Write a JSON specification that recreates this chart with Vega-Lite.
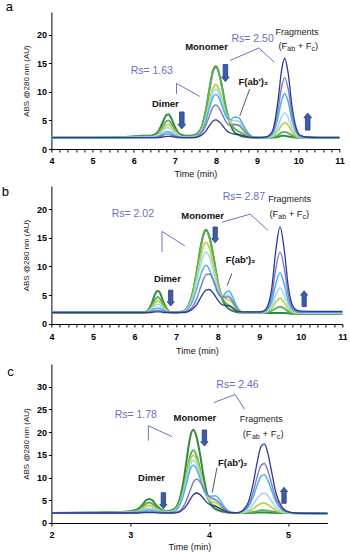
{
"$schema": "https://vega.github.io/schema/vega-lite/v6.json",
"padding": {"left": 1.4, "top": 1, "right": 0, "bottom": 0},
"background": "white",
"config": {"view": {"stroke": null}, "axis": {"grid": false, "domainColor": "#000", "tickColor": "#000", "labelColor": "#000", "titleColor": "#111", "labelFont": "Liberation Sans", "titleFont": "Liberation Sans", "labelFontSize": 9, "labelFontWeight": "bold", "titleFontSize": 9, "titleFontWeight": "normal", "tickSize": 3}},
"datasets": {
"ca": [
{"t":4,"c1":2,"c2":2,"c3":2,"c4":2,"c5":2,"c6":2,"c7":2},
{"t":5,"c1":2,"c2":2,"c3":2,"c4":2,"c5":2,"c6":2,"c7":2},
{"t":5.8,"c1":2.1,"c2":2.1,"c3":2,"c4":2,"c5":2,"c6":2,"c7":2},
{"t":6.2,"c1":2.3,"c2":2.2,"c3":2.1,"c4":2.1,"c5":2,"c6":2,"c7":2},
{"t":6.4,"c1":2.3,"c2":2.2,"c3":2.1,"c4":2.1,"c5":2,"c6":2,"c7":2},
{"t":6.5,"c1":2.5,"c2":2.3,"c3":2.2,"c4":2.1,"c5":2,"c6":2,"c7":2},
{"t":6.6,"c1":3.1,"c2":2.8,"c3":2.6,"c4":2.4,"c5":2.2,"c6":2.1,"c7":2},
{"t":6.7,"c1":4.6,"c2":3.9,"c3":3.4,"c4":3.1,"c5":2.6,"c6":2.4,"c7":2.1},
{"t":6.8,"c1":6.0,"c2":4.9,"c3":4.2,"c4":3.7,"c5":3.0,"c6":2.6,"c7":2.2},
{"t":6.85,"c1":6.1,"c2":5.0,"c3":4.3,"c4":3.7,"c5":3.0,"c6":2.6,"c7":2.2},
{"t":6.9,"c1":5.6,"c2":4.6,"c3":4.0,"c4":3.5,"c5":2.9,"c6":2.5,"c7":2.2},
{"t":7.0,"c1":3.9,"c2":3.4,"c3":3.1,"c4":2.8,"c5":2.4,"c6":2.3,"c7":2.1},
{"t":7.1,"c1":2.7,"c2":2.5,"c3":2.4,"c4":2.3,"c5":2.1,"c6":2.1,"c7":2},
{"t":7.2,"c1":2.4,"c2":2.2,"c3":2.1,"c4":2.1,"c5":2,"c6":2,"c7":2},
{"t":7.3,"c1":2.3,"c2":2.2,"c3":2.1,"c4":2.05,"c5":2,"c6":2,"c7":2},
{"t":7.45,"c1":2.4,"c2":2.3,"c3":2.15,"c4":2.1,"c5":2.05,"c6":2,"c7":2},
{"t":7.55,"c1":2.7,"c2":2.6,"c3":2.4,"c4":2.35,"c5":2.3,"c6":2.2,"c7":2.1},
{"t":7.65,"c1":3.8,"c2":3.8,"c3":3.3,"c4":3.2,"c5":3.0,"c6":2.8,"c7":2.4},
{"t":7.75,"c1":6.6,"c2":6.6,"c3":5.4,"c4":5.1,"c5":4.8,"c6":4.1,"c7":3.1},
{"t":7.85,"c1":10.9,"c2":10.7,"c3":8.6,"c4":8.0,"c5":7.4,"c6":6.0,"c7":4.2},
{"t":7.93,"c1":13.8,"c2":13.6,"c3":10.7,"c4":10.0,"c5":9.1,"c6":7.4,"c7":4.9},
{"t":8.0,"c1":14.5,"c2":14.3,"c3":11.3,"c4":10.5,"c5":9.6,"c6":7.7,"c7":5.1},
{"t":8.07,"c1":13.4,"c2":13.3,"c3":10.5,"c4":9.8,"c5":9.0,"c6":7.2,"c7":4.8},
{"t":8.15,"c1":10.8,"c2":10.7,"c3":8.6,"c4":8.1,"c5":7.5,"c6":6.1,"c7":4.2},
{"t":8.25,"c1":6.9,"c2":7.0,"c3":6.0,"c4":5.9,"c5":5.7,"c6":4.7,"c7":3.3},
{"t":8.35,"c1":4.3,"c2":4.6,"c3":4.6,"c4":4.9,"c5":5.1,"c6":4.1,"c7":2.8},
{"t":8.45,"c1":2.9,"c2":3.6,"c3":4.3,"c4":5.0,"c5":5.6,"c6":4.3,"c7":2.6},
{"t":8.55,"c1":2.5,"c2":3.1,"c3":4.1,"c4":4.9,"c5":5.5,"c6":4.2,"c7":2.5},
{"t":8.65,"c1":2.2,"c2":2.7,"c3":3.4,"c4":3.9,"c5":4.4,"c6":3.5,"c7":2.35},
{"t":8.75,"c1":2.1,"c2":2.3,"c3":2.6,"c4":2.9,"c5":3.1,"c6":2.7,"c7":2.15},
{"t":8.85,"c1":2,"c2":2.1,"c3":2.2,"c4":2.25,"c5":2.3,"c6":2.2,"c7":2.05},
{"t":8.95,"c1":2,"c2":2,"c3":2,"c4":2.05,"c5":2.05,"c6":2.05,"c7":2},
{"t":9.05,"c1":2,"c2":2,"c3":2,"c4":2,"c5":2,"c6":2,"c7":2},
{"t":9.2,"c1":2,"c2":2,"c3":2,"c4":2,"c5":2,"c6":2.05,"c7":2.1},
{"t":9.3,"c1":2,"c2":2,"c3":2.1,"c4":2.1,"c5":2.2,"c6":2.3,"c7":2.4},
{"t":9.4,"c1":2,"c2":2.1,"c3":2.3,"c4":2.5,"c5":2.9,"c6":3.3,"c7":3.7},
{"t":9.5,"c1":2.1,"c2":2.4,"c3":3.1,"c4":3.8,"c5":5.3,"c6":6.5,"c7":8.0},
{"t":9.6,"c1":2.3,"c2":2.9,"c3":4.2,"c4":5.7,"c5":8.6,"c6":11.0,"c7":14.0},
{"t":9.67,"c1":2.3,"c2":3.0,"c3":4.6,"c4":6.3,"c5":9.7,"c6":12.5,"c7":15.9},
{"t":9.75,"c1":2.2,"c2":2.8,"c3":4.2,"c4":5.6,"c5":8.4,"c6":10.7,"c7":13.5},
{"t":9.85,"c1":2.1,"c2":2.4,"c3":3.0,"c4":3.7,"c5":5.0,"c6":6.0,"c7":7.4},
{"t":9.95,"c1":2,"c2":2.1,"c3":2.3,"c4":2.5,"c5":2.9,"c6":3.3,"c7":3.7},
{"t":10.05,"c1":2,"c2":2,"c3":2.1,"c4":2.1,"c5":2.2,"c6":2.3,"c7":2.4},
{"t":10.2,"c1":2,"c2":2,"c3":2,"c4":2,"c5":2,"c6":2.05,"c7":2.1},
{"t":10.5,"c1":2,"c2":2,"c3":2,"c4":2,"c5":2,"c6":2,"c7":2},
{"t":11,"c1":2,"c2":2,"c3":2,"c4":2,"c5":2,"c6":2,"c7":2}
],
"cb": [
{"t":4,"c1":2,"c2":2,"c3":2,"c4":2,"c5":2,"c6":2,"c7":2},
{"t":5,"c1":2,"c2":2,"c3":2,"c4":2,"c5":2,"c6":2,"c7":2},
{"t":6,"c1":2,"c2":2,"c3":2,"c4":2,"c5":2,"c6":2,"c7":2},
{"t":6.2,"c1":2,"c2":2,"c3":2,"c4":2,"c5":2,"c6":2,"c7":2},
{"t":6.3,"c1":2.2,"c2":2.2,"c3":2.1,"c4":2.1,"c5":2,"c6":2,"c7":2},
{"t":6.4,"c1":3.3,"c2":2.9,"c3":2.7,"c4":2.5,"c5":2.3,"c6":2.1,"c7":2},
{"t":6.5,"c1":5.3,"c2":4.3,"c3":3.7,"c4":3.2,"c5":2.7,"c6":2.3,"c7":2.1},
{"t":6.56,"c1":5.8,"c2":4.7,"c3":4.0,"c4":3.4,"c5":2.8,"c6":2.4,"c7":2.1},
{"t":6.62,"c1":5.3,"c2":4.3,"c3":3.7,"c4":3.2,"c5":2.7,"c6":2.3,"c7":2.1},
{"t":6.7,"c1":3.7,"c2":3.2,"c3":2.9,"c4":2.6,"c5":2.4,"c6":2.2,"c7":2},
{"t":6.8,"c1":2.4,"c2":2.3,"c3":2.2,"c4":2.1,"c5":2.1,"c6":2,"c7":2},
{"t":6.9,"c1":2,"c2":2,"c3":2,"c4":2,"c5":2,"c6":2,"c7":2},
{"t":7.0,"c1":2,"c2":2,"c3":2,"c4":2,"c5":2,"c6":2,"c7":2},
{"t":7.2,"c1":2.3,"c2":2.3,"c3":2.3,"c4":2.25,"c5":2.2,"c6":2.1,"c7":2},
{"t":7.3,"c1":3.3,"c2":3.2,"c3":3.1,"c4":2.9,"c5":2.7,"c6":2.3,"c7":2.2},
{"t":7.4,"c1":5.5,"c2":5.4,"c3":4.9,"c4":4.5,"c5":4.0,"c6":3.0,"c7":2.6},
{"t":7.5,"c1":9.3,"c2":9.2,"c3":8.2,"c4":7.4,"c5":6.2,"c6":4.5,"c7":3.4},
{"t":7.6,"c1":13.8,"c2":13.6,"c3":12.0,"c4":10.6,"c5":8.7,"c6":6.6,"c7":4.7},
{"t":7.66,"c1":15.7,"c2":15.5,"c3":13.6,"c4":12.0,"c5":9.8,"c6":7.8,"c7":5.4},
{"t":7.72,"c1":16.4,"c2":16.2,"c3":14.2,"c4":12.5,"c5":10.2,"c6":8.6,"c7":5.9},
{"t":7.8,"c1":15.2,"c2":15.1,"c3":13.2,"c4":11.7,"c5":9.5,"c6":8.7,"c7":6.0},
{"t":7.9,"c1":11.7,"c2":11.5,"c3":10.2,"c4":9.1,"c5":7.5,"c6":7.5,"c7":5.3},
{"t":8.0,"c1":7.4,"c2":7.4,"c3":6.7,"c4":6.2,"c5":5.4,"c6":5.7,"c7":4.2},
{"t":8.1,"c1":4.5,"c2":4.7,"c3":4.7,"c4":4.8,"c5":4.7,"c6":4.7,"c7":3.4},
{"t":8.2,"c1":3.1,"c2":3.6,"c3":4.4,"c4":4.9,"c5":5.5,"c6":4.7,"c7":3.2},
{"t":8.27,"c1":2.6,"c2":3.2,"c3":4.2,"c4":5.0,"c5":5.8,"c6":4.7,"c7":3.2},
{"t":8.35,"c1":2.3,"c2":2.8,"c3":3.7,"c4":4.3,"c5":4.9,"c6":4.0,"c7":2.9},
{"t":8.45,"c1":2.1,"c2":2.3,"c3":2.6,"c4":2.9,"c5":3.2,"c6":2.8,"c7":2.3},
{"t":8.55,"c1":2,"c2":2.1,"c3":2.1,"c4":2.2,"c5":2.2,"c6":2.2,"c7":2.1},
{"t":8.65,"c1":2,"c2":2,"c3":2,"c4":2,"c5":2,"c6":2,"c7":2.1},
{"t":8.8,"c1":2,"c2":2,"c3":2,"c4":2,"c5":2,"c6":2,"c7":2.1},
{"t":9.0,"c1":2,"c2":2,"c3":2,"c4":2,"c5":2,"c6":2.05,"c7":2.1},
{"t":9.1,"c1":1.95,"c2":2,"c3":2,"c4":2.05,"c5":2.05,"c6":2.15,"c7":2.25},
{"t":9.2,"c1":1.9,"c2":2.1,"c3":2.2,"c4":2.3,"c5":2.5,"c6":2.8,"c7":3.1},
{"t":9.3,"c1":1.9,"c2":2.3,"c3":2.7,"c4":3.2,"c5":3.9,"c6":4.9,"c7":6.2},
{"t":9.4,"c1":1.9,"c2":2.7,"c3":3.8,"c4":5.1,"c5":7.0,"c6":9.7,"c7":12.9},
{"t":9.5,"c1":1.9,"c2":3.0,"c3":4.5,"c4":6.3,"c5":8.9,"c6":12.5,"c7":16.9},
{"t":9.6,"c1":1.9,"c2":2.7,"c3":3.7,"c4":5.0,"c5":6.9,"c6":9.7,"c7":13.0},
{"t":9.7,"c1":1.85,"c2":2.2,"c3":2.6,"c4":3.1,"c5":3.9,"c6":5.0,"c7":6.4},
{"t":9.8,"c1":1.8,"c2":1.9,"c3":2.1,"c4":2.2,"c5":2.5,"c6":2.8,"c7":3.2},
{"t":9.9,"c1":1.8,"c2":1.8,"c3":1.9,"c4":2.0,"c5":2.1,"c6":2.25,"c7":2.4},
{"t":10.0,"c1":1.8,"c2":1.8,"c3":1.9,"c4":1.9,"c5":2.0,"c6":2.1,"c7":2.25},
{"t":10.5,"c1":1.8,"c2":1.8,"c3":1.9,"c4":1.9,"c5":2.0,"c6":2.1,"c7":2.2},
{"t":11,"c1":1.8,"c2":1.8,"c3":1.9,"c4":1.9,"c5":2.0,"c6":2.1,"c7":2.2}
],
"cc": [
{"t":2,"c1":2.2,"c2":2.2,"c3":2.2,"c4":2.2,"c5":2.2,"c6":2.2,"c7":2.2},
{"t":2.5,"c1":2.3,"c2":2.2,"c3":2.2,"c4":2.2,"c5":2.2,"c6":2.2,"c7":2.2},
{"t":2.8,"c1":2.4,"c2":2.35,"c3":2.3,"c4":2.3,"c5":2.25,"c6":2.2,"c7":2.2},
{"t":3.0,"c1":2.6,"c2":2.5,"c3":2.4,"c4":2.35,"c5":2.3,"c6":2.25,"c7":2.2},
{"t":3.1,"c1":3.1,"c2":2.8,"c3":2.6,"c4":2.5,"c5":2.4,"c6":2.3,"c7":2.2},
{"t":3.15,"c1":3.9,"c2":3.5,"c3":3.1,"c4":2.8,"c5":2.6,"c6":2.4,"c7":2.25},
{"t":3.2,"c1":5.0,"c2":4.2,"c3":3.6,"c4":3.1,"c5":2.8,"c6":2.5,"c7":2.3},
{"t":3.24,"c1":5.3,"c2":4.5,"c3":3.8,"c4":3.25,"c5":2.9,"c6":2.55,"c7":2.3},
{"t":3.28,"c1":5.0,"c2":4.2,"c3":3.6,"c4":3.1,"c5":2.8,"c6":2.5,"c7":2.3},
{"t":3.33,"c1":3.9,"c2":3.5,"c3":3.1,"c4":2.8,"c5":2.6,"c6":2.4,"c7":2.25},
{"t":3.4,"c1":2.9,"c2":2.7,"c3":2.5,"c4":2.45,"c5":2.35,"c6":2.3,"c7":2.2},
{"t":3.47,"c1":2.6,"c2":2.5,"c3":2.4,"c4":2.35,"c5":2.3,"c6":2.25,"c7":2.2},
{"t":3.55,"c1":3.0,"c2":2.8,"c3":2.7,"c4":2.6,"c5":2.5,"c6":2.3,"c7":2.2},
{"t":3.62,"c1":4.9,"c2":4.2,"c3":4.0,"c4":3.9,"c5":3.7,"c6":2.6,"c7":2.4},
{"t":3.67,"c1":8.6,"c2":7.0,"c3":6.7,"c4":6.3,"c5":5.9,"c6":3.5,"c7":3.0},
{"t":3.72,"c1":14.5,"c2":11.5,"c3":10.7,"c4":10.0,"c5":9.2,"c6":5.3,"c7":4.0},
{"t":3.76,"c1":18.9,"c2":14.8,"c3":13.8,"c4":12.8,"c5":11.8,"c6":7.2,"c7":5.2},
{"t":3.8,"c1":20.5,"c2":16.0,"c3":14.9,"c4":13.8,"c5":12.7,"c6":9.0,"c7":6.2},
{"t":3.84,"c1":19.0,"c2":14.9,"c3":13.9,"c4":12.9,"c5":11.9,"c6":9.7,"c7":6.6},
{"t":3.88,"c1":15.6,"c2":12.3,"c3":11.6,"c4":10.8,"c5":10.0,"c6":9.2,"c7":6.3},
{"t":3.93,"c1":10.2,"c2":8.3,"c3":8.0,"c4":7.7,"c5":7.3,"c6":7.7,"c7":5.4},
{"t":3.98,"c1":6.1,"c2":5.5,"c3":5.7,"c4":5.8,"c5":6.0,"c6":6.2,"c7":4.4},
{"t":4.03,"c1":3.9,"c2":4.2,"c3":4.7,"c4":5.3,"c5":5.9,"c6":5.5,"c7":3.9},
{"t":4.08,"c1":3.1,"c2":3.7,"c3":4.5,"c4":5.2,"c5":6.0,"c6":5.1,"c7":3.7},
{"t":4.13,"c1":2.7,"c2":3.2,"c3":3.9,"c4":4.5,"c5":5.2,"c6":4.4,"c7":3.3},
{"t":4.2,"c1":2.4,"c2":2.6,"c3":2.8,"c4":3.1,"c5":3.4,"c6":3.0,"c7":2.6},
{"t":4.27,"c1":2.2,"c2":2.3,"c3":2.3,"c4":2.4,"c5":2.4,"c6":2.35,"c7":2.3},
{"t":4.35,"c1":2.2,"c2":2.2,"c3":2.2,"c4":2.2,"c5":2.2,"c6":2.2,"c7":2.25},
{"t":4.42,"c1":2.2,"c2":2.2,"c3":2.3,"c4":2.35,"c5":2.5,"c6":2.6,"c7":2.7},
{"t":4.5,"c1":2.2,"c2":2.3,"c3":2.6,"c4":2.9,"c5":3.6,"c6":4.0,"c7":4.7},
{"t":4.56,"c1":2.25,"c2":2.45,"c3":3.15,"c4":4.1,"c5":5.8,"c6":6.9,"c7":8.8},
{"t":4.61,"c1":2.3,"c2":2.6,"c3":3.8,"c4":5.4,"c5":8.3,"c6":10.2,"c7":13.4},
{"t":4.66,"c1":2.3,"c2":2.8,"c3":4.3,"c4":6.4,"c5":10.3,"c6":12.7,"c7":16.9},
{"t":4.7,"c1":2.3,"c2":2.8,"c3":4.4,"c4":6.6,"c5":10.6,"c6":13.1,"c7":17.4},
{"t":4.74,"c1":2.3,"c2":2.7,"c3":4.1,"c4":6.1,"c5":9.6,"c6":11.8,"c7":15.7},
{"t":4.79,"c1":2.25,"c2":2.6,"c3":3.5,"c4":4.9,"c5":7.3,"c6":8.8,"c7":11.5},
{"t":4.85,"c1":2.2,"c2":2.4,"c3":2.8,"c4":3.4,"c5":4.6,"c6":5.3,"c7":6.5},
{"t":4.92,"c1":2.2,"c2":2.25,"c3":2.4,"c4":2.6,"c5":3.0,"c6":3.2,"c7":3.6},
{"t":5.0,"c1":2.2,"c2":2.2,"c3":2.25,"c4":2.3,"c5":2.35,"c6":2.4,"c7":2.5},
{"t":5.1,"c1":2.15,"c2":2.15,"c3":2.15,"c4":2.15,"c5":2.2,"c6":2.2,"c7":2.2},
{"t":5.5,"c1":2.1,"c2":2.1,"c3":2.1,"c4":2.1,"c5":2.1,"c6":2.1,"c7":2.1}
],
"la": [
{"g":"r1","o":1,"t":7.04,"v":9.65},{"g":"r1","o":2,"t":7.04,"v":11.5},{"g":"r1","o":3,"t":7.61,"v":9.2},
{"g":"r2","o":1,"t":8.34,"v":15.5},{"g":"r2","o":2,"t":9.04,"v":17.7},{"g":"r2","o":3,"t":9.42,"v":15.2},
{"g":"p","o":1,"t":8.82,"v":10.5},{"g":"p","o":2,"t":8.58,"v":5.8}
],
"lb": [
{"g":"r1","o":1,"t":6.66,"v":12.5},{"g":"r1","o":2,"t":6.66,"v":16.1},{"g":"r1","o":3,"t":7.21,"v":13.6},
{"g":"r2","o":1,"t":8.1,"v":17.7},{"g":"r2","o":2,"t":8.78,"v":19.1},{"g":"r2","o":3,"t":9.21,"v":16.3},
{"g":"p","o":1,"t":8.34,"v":8.8},{"g":"p","o":2,"t":8.23,"v":6.7}
],
"lc": [
{"g":"r1","o":1,"t":3.23,"v":18.1},{"g":"r1","o":2,"t":3.23,"v":21.4},{"g":"r1","o":3,"t":3.53,"v":19.0},
{"g":"r2","o":1,"t":4.06,"v":26.5},{"g":"r2","o":2,"t":4.33,"v":28.3},{"g":"r2","o":3,"t":4.45,"v":25.0},
{"g":"p","o":1,"t":4.1,"v":12.2},{"g":"p","o":2,"t":4.04,"v":6.7}
],
"ta": [
{"k":"L","t":2.979,"v":24.8,"s":"a"},
{"k":"R","t":6.44,"v":13.6,"s":"Rs= 1.63"},
{"k":"R","t":8.89,"v":19.2,"s":"Rs= 2.50"},
{"k":"B","t":7.77,"v":17.8,"s":"Monomer"},
{"k":"B","t":6.77,"v":7.9,"s":"Dimer"},
{"k":"B","t":8.91,"v":11.7,"s":"F(ab')₂"},
{"k":"F","t":9.97,"v":20.5,"s":"Fragments"},
{"k":"P","t":9.517,"v":18.1,"s":"(F"},
{"k":"P","t":9.986,"v":18.1,"s":"+ F"},
{"k":"P","t":10.409,"v":18.1,"s":")"},
{"k":"S","t":9.734,"v":17.55,"s":"ab"},
{"k":"S","t":10.325,"v":17.55,"s":"c"}
],
"tb": [
{"k":"L","t":2.893,"v":22.9,"s":"b"},
{"k":"R","t":5.96,"v":19.1,"s":"Rs= 2.02"},
{"k":"R","t":8.63,"v":22.1,"s":"Rs= 2.87"},
{"k":"B","t":7.64,"v":18.7,"s":"Monomer"},
{"k":"B","t":6.79,"v":7.8,"s":"Dimer"},
{"k":"B","t":8.55,"v":11.1,"s":"F(ab')₂"},
{"k":"F","t":9.73,"v":21.7,"s":"Fragments"},
{"k":"P","t":9.245,"v":19.1,"s":"(F"},
{"k":"P","t":9.707,"v":19.1,"s":"+ F"},
{"k":"P","t":10.124,"v":19.1,"s":")"},
{"k":"S","t":9.46,"v":18.55,"s":"ab"},
{"k":"S","t":10.04,"v":18.55,"s":"c"}
],
"tc": [
{"k":"L","t":1.48,"v":33.2,"s":"c"},
{"k":"R","t":4.36,"v":30.4,"s":"Rs= 2.46"},
{"k":"R","t":3.07,"v":23.7,"s":"Rs= 1.78"},
{"k":"B","t":3.82,"v":23.2,"s":"Monomer"},
{"k":"B","t":3.27,"v":10.0,"s":"Dimer"},
{"k":"B","t":4.3,"v":13.3,"s":"F(ab')₂"},
{"k":"F","t":4.66,"v":22.8,"s":"Fragments"},
{"k":"P","t":4.426,"v":19.5,"s":"(F"},
{"k":"P","t":4.678,"v":19.5,"s":"+ F"},
{"k":"P","t":4.904,"v":19.5,"s":")"},
{"k":"S","t":4.543,"v":18.85,"s":"ab"},
{"k":"S","t":4.859,"v":18.85,"s":"c"}
],
"aa": [{"d":"down","t":7.17,"v":5.0},{"d":"down","t":8.23,"v":13.3},{"d":"up","t":10.23,"v":4.8}],
"ab": [{"d":"down","t":6.87,"v":4.5},{"d":"down","t":7.94,"v":15.5},{"d":"up","t":10.08,"v":4.4}],
"ac": [{"d":"down","t":3.42,"v":4.9},{"d":"down","t":3.94,"v":18.7},{"d":"up","t":4.95,"v":6.1}]
},
"columns": 1,
"spacing": 8,
"concat": [
{
"width": 288, "height": 137,
"encoding": {
"x": {"field": "t", "type": "quantitative", "scale": {"domain": [4, 11], "nice": false, "zero": false}, "axis": {"values": [4,4.2,4.4,4.6,4.8,5,5.2,5.4,5.6,5.8,6,6.2,6.4,6.6,6.8,7,7.2,7.4,7.6,7.8,8,8.2,8.4,8.6,8.8,9,9.2,9.4,9.6,9.8,10,10.2,10.4,10.6,10.8,11], "labelExpr": "datum.value % 1 === 0 ? format(datum.value, 'd') : ''", "labelOverlap": false, "labelFlush": false, "title": "Time (min)", "labelPadding": 4, "titlePadding": 4}},
"y": {"field": "v", "type": "quantitative", "scale": {"domain": [0, 24], "nice": false}, "axis": {"values": [0,5,10,15,20], "title": "ABS @280 nm (AU)", "labelPadding": 2, "titlePadding": 6, "titleFontSize": 8}}
},
"layer": [
{"data": {"name": "ca"}, "transform": [{"fold": ["c1","c2","c3","c4","c5","c6","c7"], "as": ["s","v"]}], "mark": {"type": "line", "interpolate": "monotone"}, "encoding": {"color": {"field": "s", "type": "nominal", "scale": {"domain": ["c1","c2","c3","c4","c5","c6","c7"], "range": ["#2e8b3a","#5eb05a","#bcd34c","#a9d6f0","#4fb4de","#7e7cc4","#2b3a96"]}, "legend": null}, "strokeWidth": {"field": "s", "type": "ordinal", "scale": {"domain": ["c1","c2","c3","c4","c5","c6","c7"], "range": [2,1.3,1.3,1.3,1.3,1.4,2]}, "legend": null}}},
{"data": {"name": "la"}, "transform": [{"filter": "datum.g != 'p'"}], "mark": {"type": "line", "color": "#6b73b8", "strokeWidth": 1}, "encoding": {"detail": {"field": "g", "type": "nominal"}, "order": {"field": "o", "type": "quantitative"}}},
{"data": {"name": "la"}, "transform": [{"filter": "datum.g == 'p'"}], "mark": {"type": "line", "color": "#555555", "strokeWidth": 1}, "encoding": {"order": {"field": "o", "type": "quantitative"}}},
{"data": {"name": "ta"}, "transform": [{"filter": "datum.k == 'L'"}], "mark": {"type": "text", "font": "Liberation Sans", "fontSize": 13, "color": "#000"}, "encoding": {"text": {"field": "s", "type": "nominal"}}},
{"data": {"name": "ta"}, "transform": [{"filter": "datum.k == 'R'"}], "mark": {"type": "text", "font": "Liberation Sans", "fontSize": 10.5, "color": "#6870bf"}, "encoding": {"text": {"field": "s", "type": "nominal"}}},
{"data": {"name": "ta"}, "transform": [{"filter": "datum.k == 'B'"}], "mark": {"type": "text", "font": "Liberation Sans", "fontSize": 9.5, "fontWeight": "bold", "color": "#111"}, "encoding": {"text": {"field": "s", "type": "nominal"}}},
{"data": {"name": "ta"}, "transform": [{"filter": "datum.k == 'F'"}], "mark": {"type": "text", "font": "Liberation Sans", "fontSize": 9, "color": "#222"}, "encoding": {"text": {"field": "s", "type": "nominal"}}},
{"data": {"name": "ta"}, "transform": [{"filter": "datum.k == 'P'"}], "mark": {"type": "text", "font": "Liberation Sans", "fontSize": 9.5, "align": "left", "color": "#222"}, "encoding": {"text": {"field": "s", "type": "nominal"}}},
{"data": {"name": "ta"}, "transform": [{"filter": "datum.k == 'S'"}], "mark": {"type": "text", "font": "Liberation Sans", "fontSize": 7, "align": "left", "color": "#222"}, "encoding": {"text": {"field": "s", "type": "nominal"}}},
{"data": {"name": "aa"}, "mark": {"type": "point", "filled": true, "color": "#3d5ca8", "stroke": "#233c84", "strokeWidth": 0.8, "opacity": 1, "size": 290}, "encoding": {"shape": {"field": "d", "type": "nominal", "scale": {"domain": ["down","up"], "range": ["M-0.27,-1L0.27,-1L0.27,0.45L0.45,0.45L0,1L-0.45,0.45L-0.27,0.45Z","M-0.27,1L0.27,1L0.27,-0.45L0.45,-0.45L0,-1L-0.45,-0.45L-0.27,-0.45Z"]}, "legend": null}}}
]
},
{
"width": 291, "height": 138,
"encoding": {
"x": {"field": "t", "type": "quantitative", "scale": {"domain": [4, 11], "nice": false, "zero": false}, "axis": {"values": [4,4.2,4.4,4.6,4.8,5,5.2,5.4,5.6,5.8,6,6.2,6.4,6.6,6.8,7,7.2,7.4,7.6,7.8,8,8.2,8.4,8.6,8.8,9,9.2,9.4,9.6,9.8,10,10.2,10.4,10.6,10.8,11], "labelExpr": "datum.value % 1 === 0 ? format(datum.value, 'd') : ''", "labelOverlap": false, "labelFlush": false, "title": "Time (min)", "labelPadding": 6, "titlePadding": 5}},
"y": {"field": "v", "type": "quantitative", "scale": {"domain": [0, 24], "nice": false}, "axis": {"values": [0,5,10,15,20], "title": "ABS @280 nm (AU)", "labelPadding": 2, "titlePadding": 6, "titleFontSize": 8}}
},
"layer": [
{"data": {"name": "cb"}, "transform": [{"fold": ["c1","c2","c3","c4","c5","c6","c7"], "as": ["s","v"]}], "mark": {"type": "line", "interpolate": "monotone"}, "encoding": {"color": {"field": "s", "type": "nominal", "scale": {"domain": ["c1","c2","c3","c4","c5","c6","c7"], "range": ["#2e8b3a","#5eb05a","#bcd34c","#a9d6f0","#4fb4de","#7e7cc4","#2b3a96"]}, "legend": null}, "strokeWidth": {"field": "s", "type": "ordinal", "scale": {"domain": ["c1","c2","c3","c4","c5","c6","c7"], "range": [2,1.3,1.3,1.3,1.3,1.4,2]}, "legend": null}}},
{"data": {"name": "lb"}, "transform": [{"filter": "datum.g != 'p'"}], "mark": {"type": "line", "color": "#6b73b8", "strokeWidth": 1}, "encoding": {"detail": {"field": "g", "type": "nominal"}, "order": {"field": "o", "type": "quantitative"}}},
{"data": {"name": "lb"}, "transform": [{"filter": "datum.g == 'p'"}], "mark": {"type": "line", "color": "#555555", "strokeWidth": 1}, "encoding": {"order": {"field": "o", "type": "quantitative"}}},
{"data": {"name": "tb"}, "transform": [{"filter": "datum.k == 'L'"}], "mark": {"type": "text", "font": "Liberation Sans", "fontSize": 13, "color": "#000"}, "encoding": {"text": {"field": "s", "type": "nominal"}}},
{"data": {"name": "tb"}, "transform": [{"filter": "datum.k == 'R'"}], "mark": {"type": "text", "font": "Liberation Sans", "fontSize": 10.5, "color": "#6870bf"}, "encoding": {"text": {"field": "s", "type": "nominal"}}},
{"data": {"name": "tb"}, "transform": [{"filter": "datum.k == 'B'"}], "mark": {"type": "text", "font": "Liberation Sans", "fontSize": 9.5, "fontWeight": "bold", "color": "#111"}, "encoding": {"text": {"field": "s", "type": "nominal"}}},
{"data": {"name": "tb"}, "transform": [{"filter": "datum.k == 'F'"}], "mark": {"type": "text", "font": "Liberation Sans", "fontSize": 9, "color": "#222"}, "encoding": {"text": {"field": "s", "type": "nominal"}}},
{"data": {"name": "tb"}, "transform": [{"filter": "datum.k == 'P'"}], "mark": {"type": "text", "font": "Liberation Sans", "fontSize": 9.5, "align": "left", "color": "#222"}, "encoding": {"text": {"field": "s", "type": "nominal"}}},
{"data": {"name": "tb"}, "transform": [{"filter": "datum.k == 'S'"}], "mark": {"type": "text", "font": "Liberation Sans", "fontSize": 7, "align": "left", "color": "#222"}, "encoding": {"text": {"field": "s", "type": "nominal"}}},
{"data": {"name": "ab"}, "mark": {"type": "point", "filled": true, "color": "#3d5ca8", "stroke": "#233c84", "strokeWidth": 0.8, "opacity": 1, "size": 250}, "encoding": {"shape": {"field": "d", "type": "nominal", "scale": {"domain": ["down","up"], "range": ["M-0.27,-1L0.27,-1L0.27,0.45L0.45,0.45L0,1L-0.45,0.45L-0.27,0.45Z","M-0.27,1L0.27,1L0.27,-0.45L0.45,-0.45L0,-1L-0.45,-0.45L-0.27,-0.45Z"]}, "legend": null}}}
]
},
{
"width": 276, "height": 159,
"encoding": {
"x": {"field": "t", "type": "quantitative", "scale": {"domain": [2, 5.5], "nice": false, "zero": false}, "axis": {"values": [2,3,4,5], "labelOverlap": false, "labelFlush": false, "title": "Time (min)", "labelPadding": 5, "titlePadding": 3}},
"y": {"field": "v", "type": "quantitative", "scale": {"domain": [0, 35], "nice": false}, "axis": {"values": [0,5,10,15,20,25,30], "title": "ABS @280 nm (AU)", "labelPadding": 2, "titlePadding": 6, "titleFontSize": 8}}
},
"layer": [
{"data": {"name": "cc"}, "transform": [{"fold": ["c1","c2","c3","c4","c5","c6","c7"], "as": ["s","v"]}], "mark": {"type": "line", "interpolate": "monotone"}, "encoding": {"color": {"field": "s", "type": "nominal", "scale": {"domain": ["c1","c2","c3","c4","c5","c6","c7"], "range": ["#2e8b3a","#5eb05a","#bcd34c","#a9d6f0","#4fb4de","#7e7cc4","#2b3a96"]}, "legend": null}, "strokeWidth": {"field": "s", "type": "ordinal", "scale": {"domain": ["c1","c2","c3","c4","c5","c6","c7"], "range": [2,1.3,1.3,1.3,1.3,1.4,2]}, "legend": null}}},
{"data": {"name": "lc"}, "transform": [{"filter": "datum.g != 'p'"}], "mark": {"type": "line", "color": "#6b73b8", "strokeWidth": 1}, "encoding": {"detail": {"field": "g", "type": "nominal"}, "order": {"field": "o", "type": "quantitative"}}},
{"data": {"name": "lc"}, "transform": [{"filter": "datum.g == 'p'"}], "mark": {"type": "line", "color": "#555555", "strokeWidth": 1}, "encoding": {"order": {"field": "o", "type": "quantitative"}}},
{"data": {"name": "tc"}, "transform": [{"filter": "datum.k == 'L'"}], "mark": {"type": "text", "font": "Liberation Sans", "fontSize": 13, "color": "#000"}, "encoding": {"text": {"field": "s", "type": "nominal"}}},
{"data": {"name": "tc"}, "transform": [{"filter": "datum.k == 'R'"}], "mark": {"type": "text", "font": "Liberation Sans", "fontSize": 10.5, "color": "#6870bf"}, "encoding": {"text": {"field": "s", "type": "nominal"}}},
{"data": {"name": "tc"}, "transform": [{"filter": "datum.k == 'B'"}], "mark": {"type": "text", "font": "Liberation Sans", "fontSize": 9.5, "fontWeight": "bold", "color": "#111"}, "encoding": {"text": {"field": "s", "type": "nominal"}}},
{"data": {"name": "tc"}, "transform": [{"filter": "datum.k == 'F'"}], "mark": {"type": "text", "font": "Liberation Sans", "fontSize": 9, "color": "#222"}, "encoding": {"text": {"field": "s", "type": "nominal"}}},
{"data": {"name": "tc"}, "transform": [{"filter": "datum.k == 'P'"}], "mark": {"type": "text", "font": "Liberation Sans", "fontSize": 9.5, "align": "left", "color": "#222"}, "encoding": {"text": {"field": "s", "type": "nominal"}}},
{"data": {"name": "tc"}, "transform": [{"filter": "datum.k == 'S'"}], "mark": {"type": "text", "font": "Liberation Sans", "fontSize": 7, "align": "left", "color": "#222"}, "encoding": {"text": {"field": "s", "type": "nominal"}}},
{"data": {"name": "ac"}, "mark": {"type": "point", "filled": true, "color": "#3d5ca8", "stroke": "#233c84", "strokeWidth": 0.8, "opacity": 1, "size": 260}, "encoding": {"shape": {"field": "d", "type": "nominal", "scale": {"domain": ["down","up"], "range": ["M-0.27,-1L0.27,-1L0.27,0.45L0.45,0.45L0,1L-0.45,0.45L-0.27,0.45Z","M-0.27,1L0.27,1L0.27,-0.45L0.45,-0.45L0,-1L-0.45,-0.45L-0.27,-0.45Z"]}, "legend": null}}}
]
}
]
}
